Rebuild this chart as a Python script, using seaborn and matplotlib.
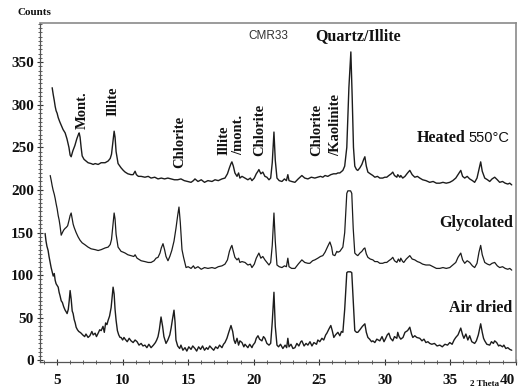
import matplotlib
matplotlib.use('Agg')
import matplotlib.pyplot as plt
import matplotlib.transforms as mtransforms
from matplotlib.ticker import MultipleLocator
import seaborn as sns
import pandas as pd

# XRD patterns for sample CMR33 (2 theta in degrees, counts)
heated_theta = [4.62, 4.70, 4.78, 4.85, 4.92, 5.00, 5.08, 5.20, 5.31, 5.45, 5.61, 5.75, 5.90, 5.99, 6.07, 6.20,
                6.35, 6.50, 6.62, 6.68, 6.75, 6.83, 6.91, 7.05, 7.20, 7.36, 7.59, 7.75, 7.90, 8.13, 8.36, 8.66,
                8.89, 9.05, 9.15, 9.27, 9.35, 9.42, 9.50, 9.65, 9.88, 10.05, 10.19, 10.40, 10.64, 10.80, 10.95,
                11.05, 11.20, 11.41, 11.70, 11.95, 12.17, 12.45, 12.70, 12.95, 13.20, 13.45, 13.69, 13.95, 14.20,
                14.45, 14.70, 14.95, 15.22, 15.40, 15.52, 15.75, 16.00, 16.25, 16.51, 16.82, 17.05, 17.30, 17.58,
                17.81, 18.00, 18.15, 18.27, 18.34, 18.45, 18.57, 18.73, 18.85, 18.95, 19.11, 19.34, 19.56, 19.75,
                19.87, 20.05, 20.20, 20.33, 20.40, 20.55, 20.70, 20.86, 21.01, 21.17, 21.30, 21.42, 21.55, 21.65,
                21.78, 21.95, 22.16, 22.35, 22.50, 22.61, 22.70, 22.90, 23.15, 23.40, 23.68, 23.90, 24.14, 24.40,
                24.67, 24.90, 25.10, 25.28, 25.45, 25.66, 25.89, 26.10, 26.30, 26.43, 26.58, 26.81, 26.95, 27.11,
                27.27, 27.42, 27.52, 27.62, 27.72, 27.85, 27.95, 28.11, 28.26, 28.40, 28.49, 28.60, 28.72, 28.90,
                29.10, 29.25, 29.45, 29.63, 29.85, 30.01, 30.16, 30.32, 30.50, 30.62, 30.75, 30.93, 31.00, 31.16,
                31.23, 31.38, 31.55, 31.75, 31.92, 32.10, 32.30, 32.50, 32.68, 32.90, 33.15, 33.44, 33.70, 33.95,
                34.21, 34.45, 34.70, 34.97, 35.20, 35.43, 35.60, 35.81, 35.95, 36.11, 36.30, 36.49, 36.70, 36.87,
                37.05, 37.20, 37.33, 37.45, 37.64, 37.85, 38.02, 38.20, 38.40, 38.60, 38.78, 39.00, 39.20, 39.40,
                39.55, 39.70]
heated_counts = [320, 312, 305, 298, 293, 290, 285, 280, 276, 271, 267, 260, 250, 241, 239, 246,
                 252, 260, 265, 267, 262, 250, 240, 236, 234, 232, 231, 230, 231, 230, 232, 232,
                 234, 237, 242, 258, 269, 262, 245, 231, 226, 223, 221, 219, 218, 218, 222,
                 218, 216, 216, 215, 216, 214, 215, 213, 214, 213, 214, 213, 212, 212,
                 213, 211, 210, 209, 211, 213, 210, 212, 209, 211, 210, 212, 211, 213,
                 214, 219, 226, 231, 233, 228, 220, 216, 220, 214, 216, 214, 212, 214,
                 211, 214, 219, 222, 224, 219, 221, 216, 215, 212, 214, 232, 268, 235,
                 214, 211, 210, 213, 211, 218, 211, 210, 209, 213, 217, 214, 213, 215,
                 214, 215, 216, 215, 217, 216, 218, 219, 219, 220, 220, 223, 228, 250,
                 320, 362, 310, 250, 228, 224, 223, 226, 230, 236, 239, 228, 221, 219,
                 217, 215, 216, 214, 214, 215, 215, 217, 219, 221, 217, 215, 218, 215,
                 217, 214, 216, 220, 223, 218, 215, 216, 214, 212, 211, 209, 210, 208,
                 208, 209, 208, 209, 211, 214, 218, 223, 216, 214, 216, 213, 211, 209,
                 214, 224, 233, 222, 214, 212, 210, 213, 215, 212, 209, 210, 208, 207,
                 208, 206]

glycolated_theta = [4.47, 4.55, 4.62, 4.69, 4.78, 4.85, 4.92, 5.00, 5.08, 5.15, 5.22, 5.31, 5.40, 5.50, 5.61,
                    5.69, 5.80, 5.90, 5.99, 6.07, 6.15, 6.22, 6.30, 6.45, 6.60, 6.75, 6.91, 7.10, 7.36, 7.59,
                    7.90, 8.13, 8.36, 8.66, 8.89, 9.05, 9.15, 9.27, 9.35, 9.42, 9.50, 9.65, 9.88, 10.05, 10.19,
                    10.40, 10.64, 10.85, 10.95, 11.10, 11.41, 11.70, 11.95, 12.17, 12.40, 12.55, 12.70, 12.85,
                    12.95, 13.08, 13.20, 13.31, 13.46, 13.60, 13.75, 13.92, 14.07, 14.20, 14.30, 14.40, 14.53,
                    14.65, 14.84, 15.00, 15.22, 15.40, 15.52, 15.75, 16.00, 16.25, 16.51, 16.82, 17.05, 17.30,
                    17.58, 17.81, 18.00, 18.15, 18.27, 18.34, 18.45, 18.57, 18.73, 18.85, 18.95, 19.11, 19.34,
                    19.56, 19.75, 19.87, 20.05, 20.20, 20.33, 20.40, 20.55, 20.70, 20.86, 21.01, 21.17, 21.30,
                    21.42, 21.55, 21.65, 21.78, 21.95, 22.16, 22.35, 22.50, 22.61, 22.70, 22.90, 23.15, 23.40,
                    23.68, 23.90, 24.14, 24.29, 24.50, 24.67, 24.90, 25.10, 25.28, 25.45, 25.66, 25.82, 25.95,
                    26.05, 26.20, 26.35, 26.43, 26.58, 26.81, 26.95, 27.11, 27.19, 27.40, 27.49, 27.60, 27.72,
                    27.85, 27.95, 28.11, 28.26, 28.40, 28.49, 28.60, 28.72, 28.90, 29.10, 29.25, 29.45, 29.63,
                    29.85, 30.01, 30.16, 30.32, 30.50, 30.62, 30.75, 30.93, 31.05, 31.16, 31.23, 31.38, 31.46,
                    31.65, 31.92, 32.10, 32.30, 32.50, 32.68, 32.90, 33.15, 33.44, 33.70, 33.95, 34.21, 34.45,
                    34.70, 34.97, 35.20, 35.43, 35.60, 35.81, 35.95, 36.11, 36.30, 36.49, 36.70, 36.87, 37.05,
                    37.20, 37.33, 37.45, 37.64, 37.85, 38.02, 38.20, 38.40, 38.60, 38.78, 39.00, 39.20, 39.40,
                    39.55, 39.70]
glycolated_counts = [217, 211, 205, 200, 195, 190, 184, 178, 170, 165, 158, 147, 150, 153, 155,
                     156, 158, 164, 170, 173, 166, 160, 156, 150, 145, 141, 138, 136, 133, 131,
                     130, 129, 130, 132, 133, 136, 142, 160, 173, 166, 148, 133, 128, 127, 126,
                     124, 123, 122, 124, 120, 117, 116, 115, 115, 117, 120, 121, 126,
                     132, 137, 130, 122, 117, 122, 129, 140, 155, 170, 180, 162, 130,
                     121, 109, 110, 108, 111, 108, 110, 107, 109, 108, 109, 108, 110,
                     111, 113, 118, 128, 133, 135, 128, 121, 118, 120, 115, 116, 115,
                     112, 113, 109, 113, 120, 124, 126, 120, 122, 118, 115, 112, 115,
                     135, 173, 140, 112, 110, 109, 111, 110, 120, 110, 108, 108, 113,
                     118, 115, 114, 114, 117, 118, 120, 122, 123, 127, 134, 139, 133,
                     124, 123, 128, 127, 128, 133, 150, 196, 199, 199, 196, 155, 126,
                     124, 123, 126, 128, 131, 132, 125, 121, 119, 118, 116, 116, 114,
                     114, 115, 115, 117, 119, 121, 117, 115, 119, 116, 120, 116, 115,
                     119, 123, 119, 118, 116, 115, 113, 112, 112, 110, 108, 108, 109,
                     108, 109, 112, 115, 121, 126, 118, 114, 117, 115, 111, 109, 114,
                     127, 135, 124, 115, 113, 112, 114, 115, 111, 109, 110, 108, 107,
                     108, 106]

air_theta = [4.08, 4.15, 4.22, 4.31, 4.38, 4.45, 4.54, 4.62, 4.70, 4.78, 4.85, 4.92, 5.00, 5.08, 5.15, 5.22,
             5.31, 5.40, 5.50, 5.61, 5.69, 5.76, 5.85, 5.92, 5.99, 6.07, 6.15, 6.22, 6.30, 6.38, 6.45, 6.55,
             6.65, 6.75, 6.83, 6.95, 7.10, 7.20, 7.36, 7.50, 7.65, 7.75, 7.90, 8.00, 8.13, 8.25, 8.36, 8.50,
             8.60, 8.70, 8.80, 8.89, 9.00, 9.12, 9.27, 9.35, 9.42, 9.50, 9.60, 9.70, 9.80, 9.88, 10.00, 10.10,
             10.19, 10.35, 10.50, 10.64, 10.80, 10.95, 11.10, 11.25, 11.41, 11.55, 11.70, 11.85, 12.00, 12.17,
             12.35, 12.50, 12.60, 12.70, 12.80, 12.93, 13.05, 13.15, 13.31, 13.45, 13.60, 13.70, 13.80, 13.92,
             14.00, 14.07, 14.20, 14.35, 14.45, 14.60, 14.76, 14.90, 15.05, 15.22, 15.35, 15.52, 15.65, 15.80,
             15.95, 16.10, 16.25, 16.40, 16.51, 16.65, 16.82, 16.95, 17.10, 17.25, 17.40, 17.58, 17.70, 17.81,
             17.96, 18.10, 18.27, 18.40, 18.50, 18.60, 18.73, 18.85, 18.95, 19.11, 19.25, 19.34, 19.45, 19.56,
             19.70, 19.87, 19.95, 20.10, 20.20, 20.33, 20.45, 20.63, 20.75, 20.86, 21.01, 21.17, 21.30, 21.42,
             21.55, 21.65, 21.78, 21.90, 22.05, 22.23, 22.40, 22.52, 22.61, 22.70, 22.85, 23.00, 23.15, 23.30,
             23.45, 23.60, 23.68, 23.85, 24.00, 24.14, 24.30, 24.45, 24.60, 24.80, 24.90, 25.05, 25.21, 25.35,
             25.50, 25.59, 25.75, 25.89, 26.00, 26.12, 26.25, 26.43, 26.58, 26.70, 26.81, 26.95, 27.11, 27.19,
             27.40, 27.49, 27.60, 27.72, 27.85, 27.95, 28.11, 28.30, 28.49, 28.60, 28.72, 28.85, 29.00, 29.10,
             29.25, 29.40, 29.63, 29.80, 29.95, 30.05, 30.20, 30.32, 30.45, 30.62, 30.75, 30.93, 31.00, 31.10,
             31.23, 31.40, 31.55, 31.75, 31.92, 32.05, 32.15, 32.30, 32.45, 32.68, 32.85, 33.00, 33.15, 33.30,
             33.44, 33.60, 33.80, 34.00, 34.21, 34.40, 34.60, 34.80, 34.97, 35.15, 35.30, 35.43, 35.60, 35.81,
             35.95, 36.05, 36.20, 36.35, 36.49, 36.65, 36.87, 37.00, 37.15, 37.33, 37.45, 37.55, 37.64, 37.80,
             38.02, 38.15, 38.30, 38.40, 38.55, 38.70, 38.80, 39.00, 39.10, 39.25, 39.40, 39.55, 39.70]
air_counts = [149, 140, 134, 129, 122, 116, 109, 104, 99, 102, 94, 90, 88, 86, 80, 76,
              70, 68, 63, 59, 57, 55, 60, 70, 82, 72, 58, 55, 48, 44, 39, 36,
              34, 33, 32, 30, 28, 31, 27, 29, 34, 30, 32, 28, 32, 36, 35, 40,
              33, 44, 42, 47, 52, 62, 86, 78, 60, 47, 35, 30, 27, 27, 24, 27,
              25, 22, 26, 23, 21, 24, 22, 18, 20, 17, 18, 15, 19, 15,
              18, 21, 24, 28, 36, 51, 40, 28, 20, 24, 30, 38, 48, 59,
              45, 24, 17, 14, 18, 12, 15, 11, 16, 13, 17, 14, 11, 16,
              13, 17, 12, 15, 13, 17, 14, 12, 16, 14, 18, 15, 19, 21,
              26, 33, 41, 34, 24, 20, 26, 18, 23, 21, 16, 19, 17, 15,
              19, 15, 18, 21, 26, 29, 25, 23, 28, 26, 20, 18, 20, 45,
              80, 40, 18, 16, 19, 14, 18, 15, 26, 16, 19, 14, 15, 20,
              17, 22, 23, 17, 20, 18, 22, 17, 21, 19, 24, 22, 26, 24,
              30, 32, 37, 41, 35, 27, 30, 33, 29, 34, 33, 60, 103, 104,
              104, 103, 70, 35, 33, 33, 36, 40, 43, 33, 27, 25, 22, 23,
              21, 25, 23, 28, 22, 25, 30, 32, 26, 23, 28, 26, 33, 28,
              25, 27, 33, 35, 39, 31, 27, 29, 27, 26, 23, 25, 21, 22,
              20, 19, 20, 17, 18, 16, 19, 18, 21, 19, 24, 27, 30, 38,
              30, 26, 31, 24, 29, 22, 20, 23, 30, 43, 33, 26, 23, 19,
              18, 22, 20, 23, 21, 17, 18, 16, 18, 14, 15, 13, 12]

x_ticks = [5, 10, 15, 20, 25, 30, 35, 40]
y_ticks = [0, 50, 100, 150, 200, 250, 300, 350]

df = pd.concat([
    pd.DataFrame({'theta': heated_theta, 'counts': heated_counts, 'sample': 'heated'}),
    pd.DataFrame({'theta': glycolated_theta, 'counts': glycolated_counts, 'sample': 'glycolated'}),
    pd.DataFrame({'theta': air_theta, 'counts': air_counts, 'sample': 'air'}),
])

sns.set_style('ticks')
serif = ['Liberation Serif', 'DejaVu Serif']
sans = ['Liberation Sans', 'DejaVu Sans']

fig = plt.figure(figsize=(5.21, 3.89), dpi=100)
ax = fig.add_axes([0.077, 0.069, 0.914, 0.872])

widths = {'heated': 1.0, 'glycolated': 0.9, 'air': 1.0}
for name, grp in df.groupby('sample', sort=False):
    sns.lineplot(data=grp, x='theta', y='counts', ax=ax, color='#1c1c1c', linewidth=widths[name],
                 estimator=None, sort=False, legend=False)

ax.set_xlim(3.7, 40.05)
ax.set_ylim(-2, 396)
ax.set_xticks(x_ticks)
ax.set_yticks(y_ticks)
ax.xaxis.set_minor_locator(MultipleLocator(1))
ax.yaxis.set_minor_locator(MultipleLocator(5))
ax.tick_params(axis='both', which='major', direction='inout', length=5, width=0.8, colors='#333333',
               labelcolor='#111111')
ax.tick_params(axis='both', which='minor', direction='inout', length=3, width=0.6, colors='#444444')
ax.tick_params(axis='x', pad=6)
ax.tick_params(axis='y', pad=2)
for lab in ax.get_xticklabels() + ax.get_yticklabels():
    lab.set_family(serif)
    lab.set_fontweight('bold')
    lab.set_fontsize(11)
ax.set_xlabel('')
ax.set_ylabel('')

# keep the last x label inside the figure
last = ax.get_xticklabels()[-1]
last.set_transform(last.get_transform() + mtransforms.ScaledTranslation(-6 / 72, 0, fig.dpi_scale_trans))

for side in ['left', 'bottom']:
    ax.spines[side].set_color('#555555')
    ax.spines[side].set_linewidth(0.9)
for side in ['top', 'right']:
    ax.spines[side].set_visible(True)
    ax.spines[side].set_color('#8a8a8a')
    ax.spines[side].set_linewidth(1.2)

# peak labels (rotated)
peak_labels = [('Mont.', 6.91, 272), ('Illite', 9.28, 287), ('Chlorite', 14.38, 226),
               ('Illite', 17.73, 241), ('/mont.', 18.88, 241), ('Chlorite', 20.48, 240),
               ('Chlorite', 24.83, 240), ('/Kaolinite', 26.27, 240)]
for txt, xv, yv in peak_labels:
    ax.text(xv, yv, txt, rotation=90, ha='center', va='bottom', family=serif,
            fontweight='bold', fontsize=10.5, color='#111111')

ax.text(21.09, 381, 'CMR33', ha='center', va='center', family=sans, fontsize=8.5, color='#333333')
ax.text(27.95, 381, 'Quartz/Illite', ha='center', va='center', family=serif, fontweight='bold',
        fontsize=11.5, color='#111111')

ax.text(36.2, 261, 'Heated', ha='right', va='center', family=serif, fontweight='bold',
        fontsize=11.5, color='#111111')
ax.text(36.4, 261, '550°C', ha='left', va='center', family=sans, fontsize=10.5, color='#111111')
ax.text(39.8, 161, 'Glycolated', ha='right', va='center', family=serif, fontweight='bold',
        fontsize=11.5, color='#111111')
ax.text(39.75, 61, 'Air dried', ha='right', va='center', family=serif, fontweight='bold',
        fontsize=11.5, color='#111111')

fig.text(0.066, 0.967, 'Counts', ha='center', va='center', family=serif, fontweight='bold',
         fontsize=8, color='#111111')
fig.text(0.931, 0.012, '2 Theta', ha='center', va='center', family=serif, fontweight='bold',
         fontsize=6.5, color='#111111')

fig.savefig('out.png', dpi=100)
